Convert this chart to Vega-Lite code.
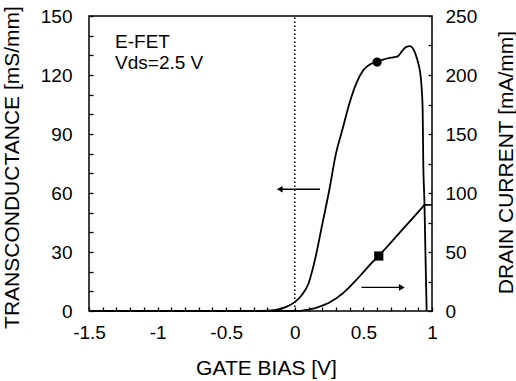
{
  "$schema": "https://vega.github.io/schema/vega-lite/v6.json",
  "width": 343,
  "height": 295,
  "autosize": {"type": "none"},
  "padding": {"left": 89, "top": 16, "right": 84, "bottom": 70},
  "config": {
    "view": {"stroke": "black", "strokeWidth": 1.5},
    "font": "Liberation Sans",
    "axis": {
      "domain": false,
      "grid": false,
      "ticks": true,
      "tickSize": 4,
      "offset": -4,
      "tickColor": "black",
      "tickWidth": 1.3,
      "labelOverlap": false,
      "labelFlush": false,
      "labelBound": false,
      "labelFont": "Liberation Sans",
      "labelFontSize": 19,
      "labelColor": "black",
      "titleFont": "Liberation Sans",
      "titleFontSize": 21,
      "titleFontWeight": "normal",
      "titleColor": "black"
    }
  },
  "encoding": {
    "x": {
      "field": "v", "type": "quantitative",
      "scale": {"domain": [-1.5, 1], "nice": false, "zero": false},
      "axis": {
        "title": "GATE BIAS [V]",
        "values": [-1.5, -1.4, -1.3, -1.2, -1.1, -1, -0.9, -0.8, -0.7, -0.6, -0.5, -0.4, -0.3, -0.2, -0.1, 0, 0.1, 0.2, 0.3, 0.4, 0.5, 0.6, 0.7, 0.8, 0.9, 1],
        "labelExpr": "abs(datum.value * 2 - round(datum.value * 2)) < 0.001 ? (datum.value + '') : ''",
        "labelOverlap": false,
        "labelPadding": 12,
        "labelBaseline": "top",
        "titleX": 177,
        "titleY": 67,
        "titleBaseline": "alphabetic"
      }
    }
  },
  "layer": [
    {
      "encoding": {
        "y": {
          "field": "gm", "type": "quantitative",
          "scale": {"domain": [0, 150], "nice": false},
          "axis": {
            "title": "TRANSCONDUCTANCE [mS/mm]",
            "orient": "left",
            "values": [0, 10, 20, 30, 40, 50, 60, 70, 80, 90, 100, 110, 120, 130, 140, 150],
            "labelExpr": "datum.value % 30 == 0 ? (datum.value + '') : ''",
            "labelOverlap": false,
            "labelPadding": 17,
            "titleAngle": 270,
            "titleX": -75,
            "titleY": 151,
            "titleBaseline": "alphabetic"
          }
        }
      },
      "layer": [
        {
          "data": {"values": [
            {"v": -1.5, "gm": 0}, {"v": -0.3, "gm": 0}, {"v": -0.2, "gm": 0.2}, {"v": -0.15, "gm": 0.5},
            {"v": -0.1, "gm": 1.2}, {"v": -0.05, "gm": 2.5}, {"v": 0.0, "gm": 4.5}, {"v": 0.05, "gm": 8},
            {"v": 0.1, "gm": 14}, {"v": 0.15, "gm": 27}, {"v": 0.2, "gm": 44}, {"v": 0.25, "gm": 61},
            {"v": 0.3, "gm": 80}, {"v": 0.35, "gm": 93}, {"v": 0.4, "gm": 106}, {"v": 0.45, "gm": 116},
            {"v": 0.5, "gm": 122.5}, {"v": 0.55, "gm": 125.5}, {"v": 0.6, "gm": 126.6}, {"v": 0.65, "gm": 128},
            {"v": 0.7, "gm": 128.8}, {"v": 0.75, "gm": 129.5}, {"v": 0.78, "gm": 132}, {"v": 0.81, "gm": 134.2},
            {"v": 0.84, "gm": 134.7}, {"v": 0.865, "gm": 133}, {"v": 0.883, "gm": 130}, {"v": 0.9, "gm": 126},
            {"v": 0.912, "gm": 122}, {"v": 0.924, "gm": 114}, {"v": 0.932, "gm": 102}, {"v": 0.936, "gm": 77},
            {"v": 0.945, "gm": 55}, {"v": 0.952, "gm": 30}, {"v": 0.958, "gm": 10}, {"v": 0.961, "gm": 0}
          ]},
          "mark": {"type": "line", "color": "black", "strokeWidth": 1.8, "interpolate": "monotone"}
        },
        {
          "data": {"values": [{"v": 0, "gm": 0, "gm2": 150}]},
          "mark": {"type": "rule", "color": "black", "strokeWidth": 1.5, "strokeDash": [1.5, 2.5]},
          "encoding": {"y2": {"field": "gm2"}}
        },
        {
          "data": {"values": [
            {"v": 0.184, "v2": -0.12, "gm": 61.9},
            {"v": 0.486, "v2": 0.785, "gm": 12.0}
          ]},
          "mark": {"type": "rule", "color": "black", "strokeWidth": 1.3},
          "encoding": {"x2": {"field": "v2"}}
        },
        {
          "data": {"values": [{"v": -0.11, "gm": 61.9}]},
          "mark": {"type": "point", "shape": "triangle-left", "filled": true, "color": "black", "size": 45, "opacity": 1}
        },
        {
          "data": {"values": [{"v": 0.78, "gm": 12.0}]},
          "mark": {"type": "point", "shape": "triangle-right", "filled": true, "color": "black", "size": 45, "opacity": 1}
        },
        {
          "data": {"values": [{"v": 0.6, "gm": 126.6}]},
          "mark": {"type": "point", "shape": "circle", "filled": true, "color": "black", "size": 85, "opacity": 1}
        },
        {
          "data": {"values": [
            {"v": -1.31, "gm": 133.6, "label": "E-FET"},
            {"v": -1.31, "gm": 122.9, "label": "Vds=2.5 V"}
          ]},
          "mark": {"type": "text", "align": "left", "baseline": "alphabetic", "fontSize": 19, "font": "Liberation Sans", "color": "black"},
          "encoding": {"text": {"field": "label"}}
        }
      ]
    },
    {
      "encoding": {
        "y": {
          "field": "id", "type": "quantitative",
          "scale": {"domain": [0, 250], "nice": false},
          "axis": {
            "title": "DRAIN CURRENT [mA/mm]",
            "orient": "right",
            "values": [0, 25, 50, 75, 100, 125, 150, 175, 200, 225, 250],
            "labelExpr": "datum.value % 50 == 0 ? (datum.value + '') : ''",
            "labelOverlap": false,
            "labelPadding": 13,
            "titleAngle": 270,
            "titleX": 84,
            "titleY": 146,
            "titleBaseline": "alphabetic"
          }
        }
      },
      "layer": [
        {
          "data": {"values": [
            {"v": -1.5, "id": 0}, {"v": 0.0, "id": 0}, {"v": 0.05, "id": 0.3}, {"v": 0.1, "id": 1.2},
            {"v": 0.15, "id": 2.5}, {"v": 0.2, "id": 4.5}, {"v": 0.25, "id": 7}, {"v": 0.3, "id": 10.5},
            {"v": 0.35, "id": 15}, {"v": 0.4, "id": 20.5}, {"v": 0.45, "id": 26.5}, {"v": 0.5, "id": 33},
            {"v": 0.55, "id": 39.5}, {"v": 0.6, "id": 45.5}, {"v": 0.65, "id": 51.5}, {"v": 0.7, "id": 58},
            {"v": 0.75, "id": 64.5}, {"v": 0.8, "id": 71}, {"v": 0.85, "id": 77.5}, {"v": 0.9, "id": 84},
            {"v": 0.945, "id": 90}, {"v": 1.0, "id": 90}
          ]},
          "mark": {"type": "line", "color": "black", "strokeWidth": 1.8}
        },
        {
          "data": {"values": [{"v": 0.612, "id": 46.6}]},
          "mark": {"type": "point", "shape": "square", "filled": true, "color": "black", "size": 85, "opacity": 1}
        }
      ]
    }
  ],
  "resolve": {"scale": {"y": "independent"}, "axis": {"y": "independent"}}
}
